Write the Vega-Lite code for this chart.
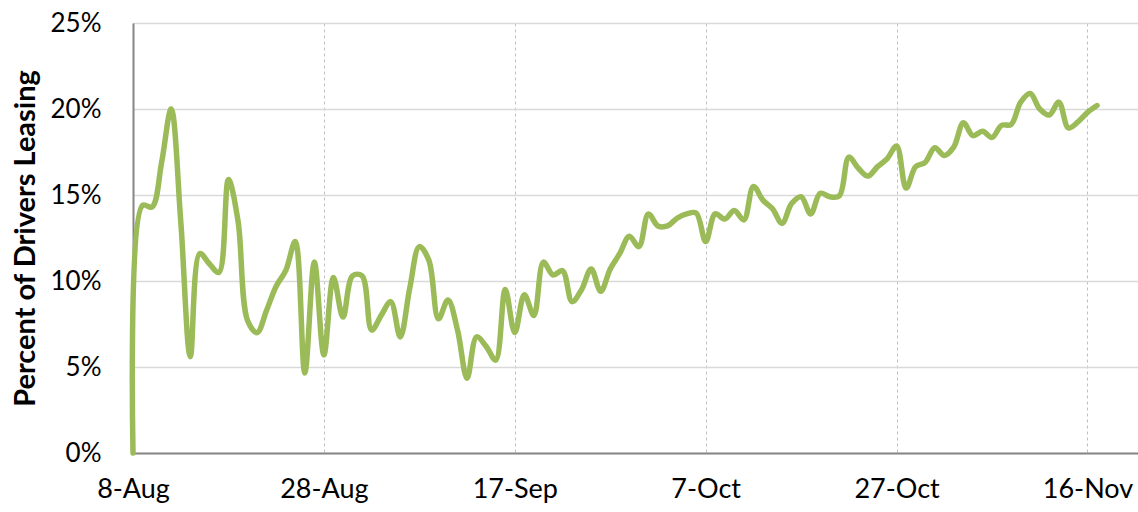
{
  "$schema": "https://vega.github.io/schema/vega-lite/v6.json",
  "width": 1005,
  "height": 430,
  "autosize": "none",
  "padding": {"left": 133, "top": 23, "right": 0, "bottom": 59},
  "background": "white",
  "config": {"view": {"stroke": null}, "font": "Lato"},
  "data": {"values": [
    {"date": "2020-08-08", "pct": 0},
    {"date": "2020-08-09", "pct": 14.4},
    {"date": "2020-08-10", "pct": 14.3},
    {"date": "2020-08-11", "pct": 16.9},
    {"date": "2020-08-12", "pct": 20.0},
    {"date": "2020-08-13", "pct": 13.5},
    {"date": "2020-08-14", "pct": 5.6},
    {"date": "2020-08-15", "pct": 11.6},
    {"date": "2020-08-16", "pct": 11.0},
    {"date": "2020-08-17", "pct": 10.5},
    {"date": "2020-08-18", "pct": 15.9},
    {"date": "2020-08-19", "pct": 13.5},
    {"date": "2020-08-20", "pct": 7.7},
    {"date": "2020-08-21", "pct": 7.0},
    {"date": "2020-08-22", "pct": 8.3},
    {"date": "2020-08-23", "pct": 9.7},
    {"date": "2020-08-24", "pct": 10.6},
    {"date": "2020-08-25", "pct": 12.3},
    {"date": "2020-08-26", "pct": 4.65},
    {"date": "2020-08-27", "pct": 11.1},
    {"date": "2020-08-28", "pct": 5.7},
    {"date": "2020-08-29", "pct": 10.2},
    {"date": "2020-08-30", "pct": 7.9},
    {"date": "2020-08-31", "pct": 10.3},
    {"date": "2020-09-01", "pct": 10.3},
    {"date": "2020-09-02", "pct": 7.15},
    {"date": "2020-09-03", "pct": 8.0},
    {"date": "2020-09-04", "pct": 8.8},
    {"date": "2020-09-05", "pct": 6.75},
    {"date": "2020-09-06", "pct": 9.6},
    {"date": "2020-09-07", "pct": 12.0},
    {"date": "2020-09-08", "pct": 11.2},
    {"date": "2020-09-09", "pct": 7.8},
    {"date": "2020-09-10", "pct": 8.9},
    {"date": "2020-09-11", "pct": 7.15},
    {"date": "2020-09-12", "pct": 4.35},
    {"date": "2020-09-13", "pct": 6.75},
    {"date": "2020-09-14", "pct": 6.2},
    {"date": "2020-09-15", "pct": 5.4},
    {"date": "2020-09-16", "pct": 9.5},
    {"date": "2020-09-17", "pct": 7.0},
    {"date": "2020-09-18", "pct": 9.2},
    {"date": "2020-09-19", "pct": 8.0},
    {"date": "2020-09-20", "pct": 11.1},
    {"date": "2020-09-21", "pct": 10.35},
    {"date": "2020-09-22", "pct": 10.6},
    {"date": "2020-09-23", "pct": 8.8},
    {"date": "2020-09-24", "pct": 9.5},
    {"date": "2020-09-25", "pct": 10.7},
    {"date": "2020-09-26", "pct": 9.4},
    {"date": "2020-09-27", "pct": 10.7},
    {"date": "2020-09-28", "pct": 11.6},
    {"date": "2020-09-29", "pct": 12.6},
    {"date": "2020-09-30", "pct": 12.0},
    {"date": "2020-10-01", "pct": 13.9},
    {"date": "2020-10-02", "pct": 13.2},
    {"date": "2020-10-03", "pct": 13.2},
    {"date": "2020-10-04", "pct": 13.65},
    {"date": "2020-10-05", "pct": 13.9},
    {"date": "2020-10-06", "pct": 13.95},
    {"date": "2020-10-07", "pct": 12.3},
    {"date": "2020-10-08", "pct": 13.9},
    {"date": "2020-10-09", "pct": 13.6},
    {"date": "2020-10-10", "pct": 14.1},
    {"date": "2020-10-11", "pct": 13.55},
    {"date": "2020-10-12", "pct": 15.5},
    {"date": "2020-10-13", "pct": 14.7},
    {"date": "2020-10-14", "pct": 14.2},
    {"date": "2020-10-15", "pct": 13.35},
    {"date": "2020-10-16", "pct": 14.5},
    {"date": "2020-10-17", "pct": 14.9},
    {"date": "2020-10-18", "pct": 13.9},
    {"date": "2020-10-19", "pct": 15.1},
    {"date": "2020-10-20", "pct": 14.9},
    {"date": "2020-10-21", "pct": 14.95},
    {"date": "2020-10-22", "pct": 17.2},
    {"date": "2020-10-23", "pct": 16.55},
    {"date": "2020-10-24", "pct": 16.1},
    {"date": "2020-10-25", "pct": 16.65},
    {"date": "2020-10-26", "pct": 17.1},
    {"date": "2020-10-27", "pct": 17.85},
    {"date": "2020-10-28", "pct": 15.4},
    {"date": "2020-10-29", "pct": 16.65},
    {"date": "2020-10-30", "pct": 16.9},
    {"date": "2020-10-31", "pct": 17.75},
    {"date": "2020-11-01", "pct": 17.3},
    {"date": "2020-11-02", "pct": 17.8},
    {"date": "2020-11-03", "pct": 19.2},
    {"date": "2020-11-04", "pct": 18.45},
    {"date": "2020-11-05", "pct": 18.7},
    {"date": "2020-11-06", "pct": 18.35},
    {"date": "2020-11-07", "pct": 19.05},
    {"date": "2020-11-08", "pct": 19.1},
    {"date": "2020-11-09", "pct": 20.4},
    {"date": "2020-11-10", "pct": 20.9},
    {"date": "2020-11-11", "pct": 20.0},
    {"date": "2020-11-12", "pct": 19.65},
    {"date": "2020-11-13", "pct": 20.4},
    {"date": "2020-11-14", "pct": 18.9},
    {"date": "2020-11-15", "pct": 19.25},
    {"date": "2020-11-16", "pct": 19.8},
    {"date": "2020-11-17", "pct": 20.2}
  ]},
  "mark": {"type": "line", "interpolate": "catmull-rom", "color": "#9BBB59", "strokeWidth": 5.5, "strokeCap": "round", "strokeJoin": "round"},
  "encoding": {
    "x": {
      "field": "date",
      "type": "temporal",
      "scale": {"type": "utc", "domain": [
        {"year": 2020, "month": 8, "date": 8, "utc": true},
        {"year": 2020, "month": 11, "date": 21, "hours": 7, "utc": true}
      ]},
      "axis": {
        "title": null,
        "values": [
          {"year": 2020, "month": 8, "date": 8, "utc": true},
          {"year": 2020, "month": 8, "date": 28, "utc": true},
          {"year": 2020, "month": 9, "date": 17, "utc": true},
          {"year": 2020, "month": 10, "date": 7, "utc": true},
          {"year": 2020, "month": 10, "date": 27, "utc": true},
          {"year": 2020, "month": 11, "date": 16, "utc": true}
        ],
        "format": "%-d-%b",
        "labelFontSize": 27,
        "labelColor": "#000000",
        "labelPadding": 23,
        "labelFlush": false,
        "ticks": false,
        "domainColor": "#868686",
        "domainWidth": 2,
        "grid": true,
        "gridDash": [3, 3],
        "gridColor": "#BFBFBF",
        "gridWidth": 1,
        "zindex": 0
      }
    },
    "y": {
      "field": "pct",
      "type": "quantitative",
      "scale": {"domain": [0, 25], "nice": false, "zero": true},
      "axis": {
        "title": "Percent of Drivers Leasing",
        "titleFontSize": 29,
        "titleFontWeight": "bold",
        "titleColor": "#000000",
        "titlePadding": 10,
        "values": [0, 5, 10, 15, 20, 25],
        "labelExpr": "datum.value + '%'",
        "labelFontSize": 26,
        "labelColor": "#000000",
        "labelPadding": 32,
        "ticks": false,
        "domainColor": "#868686",
        "domainWidth": 2,
        "grid": true,
        "gridColor": "#D9D9D9",
        "gridWidth": 1.5,
        "zindex": 0
      }
    }
  }
}
